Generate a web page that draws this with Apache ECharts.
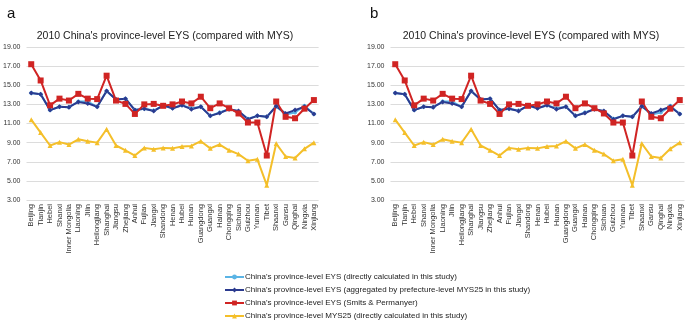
<!DOCTYPE html>
<html>
<head>
<meta charset="utf-8">
<script src="https://cdn.jsdelivr.net/npm/echarts@6/dist/echarts.min.js"></script>
<style>
  html, body { margin: 0; padding: 0; background: #fff; }
  #main { width: 685px; height: 323px; }
</style>
</head>
<body>
<div id="main"></div>
<script>
var provinces = ['Beijing','Tianjin','Hebei','Shanxi','Inner Mongolia','Liaoning','Jilin','Heilongjiang',
    'Shanghai','Jiangsu','Zhejiang','Anhui','Fujian','Jiangxi','Shandong','Henan','Hubei','Hunan',
    'Guangdong','Guangxi','Hainan','Chongqing','Sichuan','Guizhou','Yunnan','Tibet','Shaanxi','Gansu',
    'Qinghai','Ningxia','Xinjiang'];

// EYS directly calculated (light blue)
var eysDirect = [14.2,14.05,12.4,12.75,12.7,13.3,13.3,12.75,14.4,13.5,13.6,12.4,12.55,12.35,12.85,12.6,12.9,12.6,
    12.75,11.8,12.15,12.5,12.25,11.5,11.8,11.7,12.8,11.95,12.15,12.85,12.0];
// EYS aggregated by prefecture-level MYS25 (dark blue)
var eysAgg = [14.2,14.05,12.4,12.75,12.7,13.25,13.1,12.75,14.4,13.5,13.6,12.4,12.55,12.3,12.9,12.6,12.9,12.5,
    12.75,11.8,12.1,12.5,12.3,11.45,11.8,11.7,12.8,12.05,12.4,12.75,12.0];
// EYS Smits & Permanyer (red)
var eysSmits = [17.2,15.5,12.9,13.6,13.4,14.1,13.6,13.55,16.0,13.4,13.05,12.0,13.0,13.05,12.85,13.0,13.3,13.1,
    13.8,12.6,13.1,12.6,12.05,11.1,11.1,7.65,13.3,11.7,11.55,12.55,13.45];
// MYS25 directly calculated (yellow)
var mys25 = [11.4,10.05,8.7,9.05,8.8,9.35,9.15,9.0,10.4,8.7,8.2,7.65,8.45,8.3,8.45,8.4,8.6,8.65,
    9.15,8.4,8.8,8.2,7.8,7.1,7.25,4.55,8.9,7.55,7.4,8.35,9.0];

var seriesNames = [
    "China's province-level EYS (directly calculated in this study)",
    "China's province-level EYS (aggregated by prefecture-level MYS25 in this study)",
    "China's province-level EYS (Smits & Permanyer)",
    "China's province-level MYS25 (directly calculated in this study)"
];
var seriesData = [eysDirect, eysAgg, eysSmits, mys25];
var seriesColors = ['#5ab4e5', '#2b3a8f', '#d02423', '#f4bf2a'];
var seriesSymbols = ['circle', 'diamond', 'rect', 'triangle'];
var symbolSizes = [4, 5, 6, 5];

var font = 'Liberation Sans, Arial, sans-serif';
var chart = echarts.init(document.getElementById('main'));

var grids = [
    { left: 24.6, top: 47, width: 294, height: 153 },
    { left: 390.5, top: 47, width: 294, height: 153 }
];

var xAxes = [], yAxes = [], series = [];
grids.forEach(function (g, gi) {
    xAxes.push({
        type: 'category', gridIndex: gi, data: provinces,
        axisLine: { show: false }, axisTick: { show: false },
        axisLabel: { interval: 0, rotate: 90, fontSize: 7.5, color: '#333', fontFamily: font, margin: 4 }
    });
    yAxes.push({
        type: 'value', gridIndex: gi, min: 3, max: 19, interval: 2,
        axisLine: { show: false }, axisTick: { show: false },
        splitLine: { lineStyle: { color: '#dcdcdc', width: 1 } },
        axisLabel: { fontSize: 7, color: '#333', fontFamily: font, margin: 6,
            formatter: function (v) { return v.toFixed(2); } }
    });
    seriesData.forEach(function (d, i) {
        series.push({
            name: seriesNames[i], type: 'line', xAxisIndex: gi, yAxisIndex: gi,
            data: d, symbol: seriesSymbols[i], symbolSize: symbolSizes[i],
            lineStyle: { width: 2, color: seriesColors[i] },
            itemStyle: { color: seriesColors[i] },
            animation: false
        });
    });
});

var option = {
    backgroundColor: '#fff',
    title: [
        { text: "2010 China's province-level EYS (compared with MYS)", left: 160, top: 26,
          textAlign: 'center', textStyle: { fontSize: 10.5, fontWeight: 'normal', color: '#222', fontFamily: font } },
        { text: "2010 China's province-level EYS (compared with MYS)", left: 526, top: 26,
          textAlign: 'center', textStyle: { fontSize: 10.5, fontWeight: 'normal', color: '#222', fontFamily: font } },
        { text: 'a', left: 2, top: 1, textStyle: { fontSize: 15, fontWeight: 'normal', color: '#111', fontFamily: font } },
        { text: 'b', left: 365, top: 1, textStyle: { fontSize: 15, fontWeight: 'normal', color: '#111', fontFamily: font } }
    ],
    legend: {
        orient: 'vertical', left: 224, top: 273, height: 60, padding: 0,
        itemWidth: 19, itemHeight: 6, itemGap: 5,
        data: seriesNames,
        textStyle: { fontSize: 8, color: '#222', fontFamily: font, padding: [0, 0, 0, -4] }
    },
    grid: grids,
    xAxis: xAxes,
    yAxis: yAxes,
    series: series
};
chart.setOption(option);
</script>
</body>
</html>
